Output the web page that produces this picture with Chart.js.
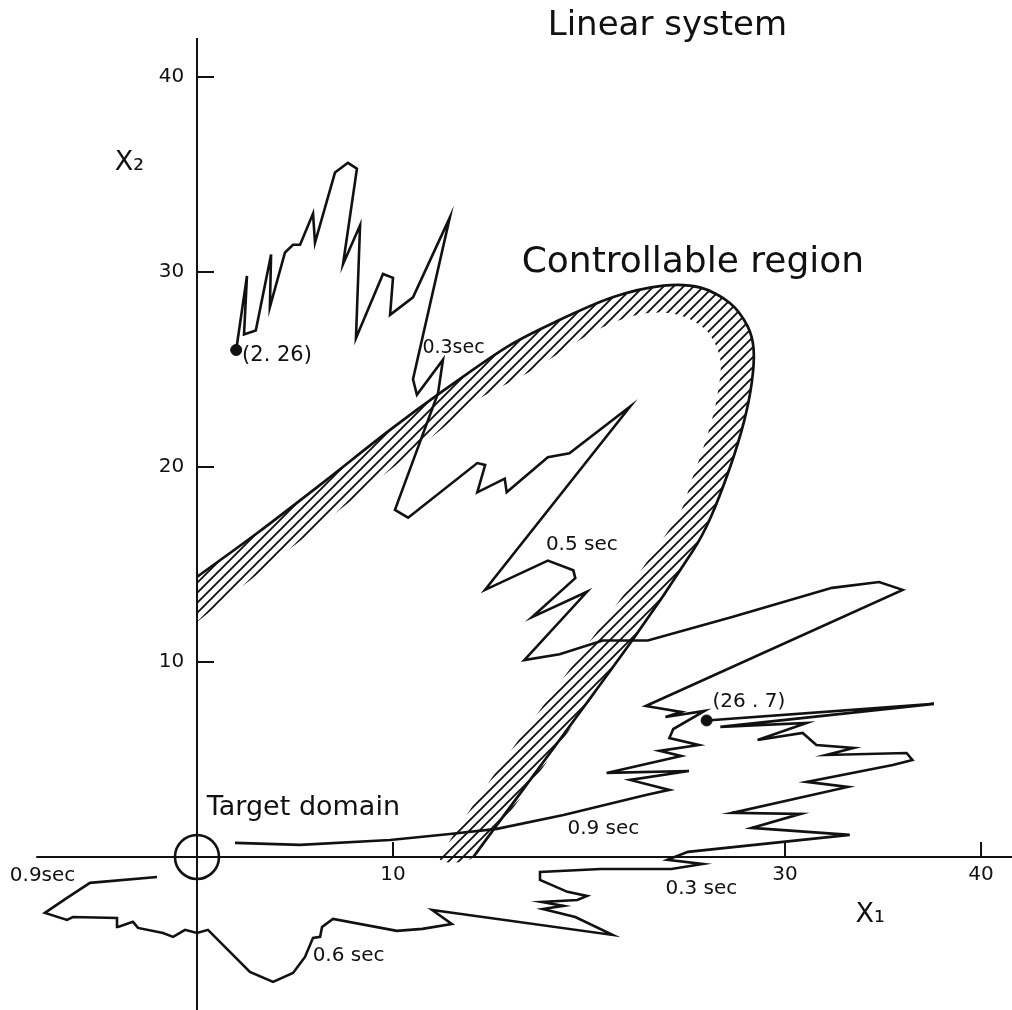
<!DOCTYPE html>
<html>
<head>
<meta charset="utf-8">
<script src="https://cdn.jsdelivr.net/npm/chart.js@4.4.0/dist/chart.umd.min.js"></script>
<style>
  html, body { margin: 0; padding: 0; background: #fff; }
  #wrap { width: 1012px; height: 1010px; position: relative; }
</style>
</head>
<body>
<div id="wrap"><canvas id="chart"></canvas></div>
<script>
// trajectory that starts at (2, 26)
var trajA = [
    [2, 26], [2.55, 29.8], [2.4, 26.8], [3.0, 27.0], [3.78, 30.9], [3.72, 28.2],
    [4.49, 31.0], [4.9, 31.4], [5.26, 31.4], [5.92, 33.0], [6.02, 31.5], [7.04, 35.1],
    [7.7, 35.6], [8.16, 35.3], [7.45, 30.4], [8.32, 32.4], [8.11, 26.6], [9.49, 29.9],
    [10.0, 29.7], [9.85, 27.8], [11.02, 28.7], [12.9, 32.8], [11.02, 24.5], [11.22, 23.7],
    [12.55, 25.5], [12.3, 23.8], [10.1, 17.8], [10.77, 17.4], [14.3, 20.2], [14.7, 20.1],
    [14.3, 18.7], [15.7, 19.4], [15.8, 18.7], [17.9, 20.5], [19.0, 20.7], [22.1, 23.1],
    [14.7, 13.7], [17.9, 15.2], [19.2, 14.7], [19.3, 14.3], [17.1, 12.3], [19.9, 13.6],
    [16.7, 10.1], [18.5, 10.4], [20.7, 11.1], [23.0, 11.1], [27.3, 12.3], [32.4, 13.8],
    [34.8, 14.1], [36.0, 13.7], [22.9, 7.74], [24.7, 7.44], [23.9, 7.18], [25.9, 7.49],
    [24.3, 6.56], [24.1, 6.1], [25.6, 5.74], [23.6, 5.44], [24.7, 5.18], [20.9, 4.31],
    [25.1, 4.41], [22.1, 3.95], [24.1, 3.44], [22.9, 3.18], [18.7, 2.15], [15.3, 1.44],
    [12.9, 1.18], [9.85, 0.87], [5.26, 0.62], [1.94, 0.72]
];

// trajectory that starts at (26, 7)
var trajB = [
    [26, 7], [37.6, 7.85], [26.7, 6.67], [31.1, 6.87], [28.6, 6.0], [30.9, 6.36],
    [31.6, 5.74], [33.5, 5.59], [32.1, 5.23], [36.2, 5.33], [36.5, 4.97], [35.5, 4.72],
    [31.1, 3.85], [33.2, 3.59], [27.3, 2.26], [30.8, 2.21], [28.3, 1.49], [33.3, 1.13],
    [25.05, 0.26], [24.0, -0.15], [25.8, -0.36], [24.2, -0.62], [20.6, -0.62], [17.5, -0.77],
    [17.5, -1.18], [18.9, -1.79], [19.9, -2.0], [19.4, -2.21], [17.6, -2.31], [18.7, -2.51],
    [17.65, -2.67], [19.3, -3.08], [21.2, -4.0], [12.0, -2.72], [13.0, -3.44], [11.5, -3.69],
    [10.2, -3.79], [6.94, -3.18], [6.38, -3.59], [6.28, -4.1], [5.92, -4.15], [5.51, -5.13],
    [4.9, -5.95], [3.88, -6.41], [2.7, -5.9], [0.56, -3.74], [0, -3.9], [-0.61, -3.74],
    [-1.22, -4.1], [-1.73, -3.9], [-3.01, -3.64], [-3.27, -3.33], [-4.03, -3.59], [-4.08, -3.13],
    [-6.33, -3.08], [-6.63, -3.23], [-7.76, -2.87], [-6.63, -2.1], [-5.46, -1.33], [-2.04, -1.03]
];

// boundary of the controllable region (outer edge drawn solid) and inner edge of the hatched band
var regionOuter = [
    [0, 14.36], [3.06, 16.6], [6.43, 19.2], [9.85, 21.9], [12.55, 23.9], [15.8, 26.15],
    [18.2, 27.4], [21.2, 28.7], [23.8, 29.3], [25.7, 29.2], [27.2, 28.4], [28.1, 27.2],
    [28.4, 26.0], [28.3, 24.3], [27.9, 22.3], [27.2, 20.0], [26.2, 17.4], [25.3, 15.7],
    [22.2, 11.1], [14.1, 0]
];
var regionInner = [
    [0, 12.05], [7.65, 18.1], [12.55, 22.0], [14.4, 23.5], [17.0, 24.9], [19.5, 26.5],
    [21.2, 27.4], [23.0, 27.9], [24.6, 27.8], [26.0, 27.0], [26.7, 25.5], [26.5, 23.4],
    [26.0, 21.5], [25.3, 19.5], [24.5, 17.4], [12.4, 0]
];

var startPoints = [[2, 26], [26, 7]];
var targetCentre = [[0, 0]];

var xTickValues = [10, 30, 40];
var yTickValues = [10, 20, 30, 40];

var notes = [
    {text: 'Linear system', x: 24.0, y: 42.6, size: 34, align: 'center'},
    {text: 'Controllable region', x: 25.3, y: 30.5, size: 36, align: 'center'},
    {text: 'Target domain', x: 0.5, y: 2.5, size: 27},
    {text: 'X\u2082', x: -4.2, y: 35.6, size: 27},
    {text: 'X\u2081', x: 33.6, y: -2.97, size: 27},
    {text: '(2. 26)', x: 2.3, y: 25.7, size: 21},
    {text: '(26 . 7)', x: 26.3, y: 7.95, size: 20},
    {text: '0.3sec', x: 11.5, y: 26.1, size: 19},
    {text: '0.5 sec', x: 17.8, y: 16.0, size: 20},
    {text: '0.9 sec', x: 18.9, y: 1.44, size: 20},
    {text: '0.3 sec', x: 23.9, y: -1.64, size: 20},
    {text: '0.9sec', x: -9.55, y: -0.97, size: 20},
    {text: '0.6 sec', x: 5.9, y: -5.08, size: 20}
];

var ink = '#111';
var fontFamily = '"DejaVu Sans", "Liberation Sans", sans-serif';

function hatchPattern() {
    var c = document.createElement('canvas');
    c.width = 10;
    c.height = 10;
    var g = c.getContext('2d');
    g.strokeStyle = ink;
    g.lineWidth = 1.9;
    g.beginPath();
    g.moveTo(0, 10); g.lineTo(10, 0);
    g.moveTo(-5, 5); g.lineTo(5, -5);
    g.moveTo(5, 15); g.lineTo(15, 5);
    g.stroke();
    return g.createPattern(c, 'repeat');
}

// axes crossing at the origin, with inward tick marks
var crossAxes = {
    id: 'crossAxes',
    beforeDatasetsDraw: function (chart) {
        var ctx = chart.ctx, xs = chart.scales.x, ys = chart.scales.y;
        var x0 = xs.getPixelForValue(0), y0 = ys.getPixelForValue(0);
        ctx.save();
        ctx.strokeStyle = ink;
        ctx.lineWidth = 2;
        ctx.beginPath();
        ctx.moveTo(xs.getPixelForValue(-8.2), y0);
        ctx.lineTo(xs.right, y0);
        ctx.moveTo(x0, ys.bottom);
        ctx.lineTo(x0, ys.getPixelForValue(42));
        xTickValues.forEach(function (v) {
            var px = xs.getPixelForValue(v);
            ctx.moveTo(px, y0);
            ctx.lineTo(px, y0 - 15);
        });
        yTickValues.forEach(function (v) {
            var py = ys.getPixelForValue(v);
            ctx.moveTo(x0, py);
            ctx.lineTo(x0 + 17, py);
        });
        ctx.stroke();
        ctx.restore();
    }
};

var notePlugin = {
    id: 'notes',
    afterDatasetsDraw: function (chart) {
        var ctx = chart.ctx, xs = chart.scales.x, ys = chart.scales.y;
        ctx.save();
        ctx.fillStyle = ink;
        ctx.textBaseline = 'middle';
        notes.forEach(function (n) {
            ctx.font = n.size + 'px ' + fontFamily;
            ctx.textAlign = n.align || 'left';
            ctx.fillText(n.text, xs.getPixelForValue(n.x), ys.getPixelForValue(n.y));
        });
        ctx.restore();
    }
};

// the crossing axes should not shrink the plot area
function noPadding(scale) {
    scale.paddingTop = 0;
    scale.paddingBottom = 0;
    scale.paddingLeft = 0;
    scale.paddingRight = 0;
}

var ctx = document.querySelector('#chart').getContext('2d');
var chart = new Chart(ctx, {
    type: 'scatter',
    data: {
        datasets: [{
            label: 'Trajectory from (2, 26)',
            data: trajA,
            showLine: true,
            borderColor: ink,
            borderWidth: 2.6,
            pointRadius: 0,
            fill: false,
            order: 1
        }, {
            label: 'Trajectory from (26, 7)',
            data: trajB,
            showLine: true,
            borderColor: ink,
            borderWidth: 2.6,
            pointRadius: 0,
            fill: false,
            order: 1
        }, {
            label: 'Controllable region edge',
            data: regionOuter,
            showLine: true,
            borderColor: ink,
            borderWidth: 2.7,
            pointRadius: 0,
            tension: 0.3,
            fill: false,
            order: 2
        }, {
            label: 'Controllable region band',
            data: regionOuter.concat(regionInner.slice().reverse()),
            showLine: true,
            borderWidth: 0,
            borderColor: 'rgba(0,0,0,0)',
            backgroundColor: hatchPattern(),
            pointRadius: 0,
            tension: 0.3,
            fill: 'shape',
            order: 3
        }, {
            label: 'Start points',
            data: startPoints,
            showLine: false,
            pointRadius: 5.5,
            pointBackgroundColor: ink,
            pointBorderColor: ink,
            order: 0
        }, {
            label: 'Target domain',
            data: targetCentre,
            showLine: false,
            pointRadius: 22,
            pointBackgroundColor: 'rgba(0,0,0,0)',
            pointBorderColor: ink,
            pointBorderWidth: 2.6,
            order: 0
        }]
    },
    options: {
        responsive: true,
        maintainAspectRatio: false,
        animation: false,
        layout: { padding: 0, autoPadding: false },
        plugins: {
            legend: { display: false },
            tooltip: { enabled: false }
        },
        scales: {
            x: {
                type: 'linear',
                min: -10.05,
                max: 41.58,
                position: { y: 0 },
                grid: { display: false, drawTicks: false },
                border: { display: false },
                afterBuildTicks: function (scale) {
                    scale.ticks = xTickValues.map(function (v) { return {value: v}; });
                },
                afterFit: noPadding,
                ticks: {
                    color: ink,
                    padding: 6,
                    maxRotation: 0,
                    font: { family: fontFamily, size: 20 }
                }
            },
            y: {
                type: 'linear',
                min: -7.85,
                max: 43.95,
                position: { x: 0 },
                grid: { display: false, drawTicks: false },
                border: { display: false },
                afterBuildTicks: function (scale) {
                    scale.ticks = yTickValues.map(function (v) { return {value: v}; });
                },
                afterFit: noPadding,
                ticks: {
                    color: ink,
                    font: { family: fontFamily, size: 20 },
                    // labels sit a little to the left of the axis line
                    callback: function (value) { return value + '  '; }
                }
            }
        }
    },
    plugins: [crossAxes, notePlugin]
});
</script>
</body>
</html>
